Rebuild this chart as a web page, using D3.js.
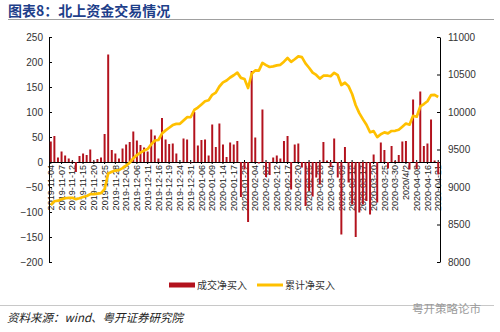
<!DOCTYPE html>
<html>
<head>
<meta charset="utf-8">
<script src="https://cdn.jsdelivr.net/npm/d3@7"></script>
<style>
  body { margin: 0; background: #fff; }
  svg { display: block; }
</style>
</head>
<body>
<div id="graph"></div>
<script>
// trading days (northbound), one bar each
var categories = [
  "2019-11-04","2019-11-05","2019-11-06","2019-11-07","2019-11-08","2019-11-11","2019-11-12","2019-11-13","2019-11-14","2019-11-15",
  "2019-11-18","2019-11-19","2019-11-20","2019-11-21","2019-11-22","2019-11-25","2019-11-26","2019-11-27","2019-11-28","2019-11-29",
  "2019-12-02","2019-12-03","2019-12-04","2019-12-05","2019-12-06","2019-12-09","2019-12-10","2019-12-11","2019-12-12","2019-12-13",
  "2019-12-16","2019-12-17","2019-12-18","2019-12-19","2019-12-20","2019-12-23","2019-12-24","2019-12-27","2019-12-30","2019-12-31",
  "2020-01-02","2020-01-03","2020-01-06","2020-01-07","2020-01-08","2020-01-09","2020-01-10","2020-01-13","2020-01-14","2020-01-15",
  "2020-01-16","2020-01-17","2020-01-20","2020-01-21","2020-01-22","2020-01-23",
  "2020-02-03","2020-02-04","2020-02-05","2020-02-06","2020-02-07","2020-02-10","2020-02-11","2020-02-12","2020-02-13","2020-02-14",
  "2020-02-17","2020-02-18","2020-02-19","2020-02-20","2020-02-21","2020-02-24","2020-02-25","2020-02-26","2020-02-27","2020-02-28",
  "2020-03-02","2020-03-03","2020-03-04","2020-03-05","2020-03-06","2020-03-09","2020-03-10","2020-03-11","2020-03-12","2020-03-13",
  "2020-03-16","2020-03-17","2020-03-18","2020-03-19","2020-03-20","2020-03-23","2020-03-24","2020-03-25","2020-03-26","2020-03-27",
  "2020-03-30","2020-03-31","2020-04-01","2020/4/2","2020-04-03","2020-04-07","2020-04-08","2020-04-09","2020-04-15","2020-04-16",
  "2020-04-17","2020-04-20","2020-04-21"
];

// 成交净买入 (left axis, 亿元)
var netBuy = [
  41, 52, 9, 21, 13, 7, 1, -20, 12, 17,
  14, 25, 1, 6, 9, 56, 215, 24, 17, 7,
  27, 35, 40, 61, 43, 34, 29, 21, 65, 53,
  7, 88, 45, 36, 37, 17, 0, 47, 45, -1,
  100, 33, 44, 45, 13, 75, 30, 77, 35, 10,
  39, 35, 42, -70, -15, -120,
  182, 49, -3, 105, -30, -26, 9, 13, 7, 42,
  52, -55, 35, 37, -11, -88, -58, -69, -31, -45,
  40, 3, -10, 47, -31, -145, 30, -41, -85, -150,
  -101, -85, -78, -105, 15, -81, 39, 24, -13, 32,
  2, 14, 41, 42, -15, 125, -14, 141, 32, 37,
  85, 3, -25
];

// 累计净买入 (right axis, 亿元)
var cumBuy = [
  8760, 8810, 8818, 8838, 8850, 8856, 8857, 8838, 8850, 8866,
  8880, 8904, 8905, 8911, 8919, 8972, 9180, 9203, 9219, 9225,
  9251, 9285, 9324, 9383, 9425, 9458, 9486, 9506, 9569, 9620,
  9627, 9712, 9755, 9790, 9826, 9842, 9842, 9887, 9931, 9930,
  10027, 10059, 10101, 10144, 10157, 10229, 10258, 10340, 10395, 10420,
  10460, 10490, 10525, 10455, 10440, 10320,
  10510, 10555, 10552, 10655, 10625, 10600, 10609, 10622, 10629, 10671,
  10720, 10668, 10703, 10742, 10731, 10648, 10590, 10525, 10494, 10445,
  10484, 10487, 10477, 10522, 10491, 10360, 10390, 10345, 10240, 10090,
  9985, 9905, 9830, 9730, 9745, 9665, 9704, 9728, 9715, 9747,
  9749, 9763, 9804, 9846, 9831, 9950, 9937, 10074, 10106, 10143,
  10225, 10228, 10200
];

var leftTicks = [-200, -150, -100, -50, 0, 50, 100, 150, 200, 250];
var rightTicks = [8000, 8500, 9000, 9500, 10000, 10500, 11000];

var W = 500, H = 332;
var plot = {left: 49, right: 440, top: 37, bottom: 262};
var barColor = "#b3121d", lineColor = "#ffc000";
var numFont = "'Liberation Sans', Arial, sans-serif";
var cjkFont = "'Noto Sans CJK SC', sans-serif";

var svg = d3.select("#graph").append("svg")
    .attr("width", W)
    .attr("height", H);

// title + rule
svg.append("text")
    .attr("x", 8).attr("y", 16)
    .attr("font-family", cjkFont)
    .attr("font-size", 14)
    .attr("font-weight", "bold")
    .attr("fill", "#1e3f8a")
    .text("图表8：北上资金交易情况");
svg.append("line")
    .attr("x1", 8).attr("x2", 494).attr("y1", 19.5).attr("y2", 19.5)
    .attr("stroke", "#a0a0a0").attr("stroke-width", 1);

// scales
var x = d3.scaleBand()
    .domain(categories)
    .range([plot.left, plot.right])
    .paddingInner(0.45)
    .paddingOuter(0.225);
var yL = d3.scaleLinear().domain([-200, 250]).range([plot.bottom, plot.top]);
var yR = d3.scaleLinear().domain([8000, 11000]).range([plot.bottom, plot.top]);

// x axis on the zero line, every third day labelled
var xAxis = svg.append("g")
    .attr("transform", "translate(0," + yL(0) + ")")
    .call(d3.axisBottom(x)
      .tickValues(categories.filter(function(d, i) { return i % 3 === 0; }))
      .tickSizeInner(2)
      .tickSizeOuter(0));
xAxis.select(".domain").attr("stroke", "#000");
xAxis.selectAll(".tick line").attr("y1", -2).attr("y2", 2).attr("stroke", "#000");
xAxis.selectAll(".tick text")
    .attr("font-family", numFont)
    .attr("font-size", 9)
    .attr("fill", "#222")
    .attr("text-anchor", "end")
    .attr("transform", "rotate(-90)")
    .attr("x", -3)
    .attr("y", 0)
    .attr("dy", "0.35em");

// left axis
var gL = svg.append("g")
    .attr("transform", "translate(" + plot.left + ",0)")
    .call(d3.axisLeft(yL).tickValues(leftTicks).tickFormat(d3.format("d"))
      .tickSizeInner(-3).tickSizeOuter(0).tickPadding(6));
gL.selectAll("text").attr("font-family", numFont).attr("font-size", 10).attr("fill", "#333");
gL.selectAll("line, path").attr("stroke", "#000");

// right axis
var gR = svg.append("g")
    .attr("transform", "translate(" + plot.right + ",0)")
    .call(d3.axisRight(yR).tickValues(rightTicks).tickFormat(d3.format("d"))
      .tickSizeInner(-3).tickSizeOuter(0).tickPadding(8));
gR.selectAll("text").attr("font-family", numFont).attr("font-size", 10).attr("fill", "#333");
gR.selectAll("line, path").attr("stroke", "#000");

// bars
svg.append("g").selectAll("rect")
    .data(netBuy)
    .enter().append("rect")
    .attr("x", function(d, i) { return x(categories[i]); })
    .attr("width", x.bandwidth())
    .attr("y", function(d) { return yL(Math.max(0, d)); })
    .attr("height", function(d) { return Math.abs(yL(d) - yL(0)); })
    .attr("fill", barColor);

// cumulative line
var line = d3.line()
    .x(function(d, i) { return x(categories[i]) + x.bandwidth() / 2; })
    .y(function(d) { return yR(d); });
svg.append("path")
    .datum(cumBuy)
    .attr("d", line)
    .attr("fill", "none")
    .attr("stroke", lineColor)
    .attr("stroke-width", 2.7)
    .attr("stroke-linejoin", "round");

// legend
var lg = svg.append("g").attr("font-family", cjkFont).attr("font-size", 10).attr("fill", "#333");
lg.append("rect").attr("x", 169).attr("y", 282.5).attr("width", 26).attr("height", 5).attr("fill", barColor);
lg.append("text").attr("x", 197).attr("y", 289).text("成交净买入");
lg.append("line").attr("x1", 257).attr("x2", 283).attr("y1", 285).attr("y2", 285)
    .attr("stroke", lineColor).attr("stroke-width", 3);
lg.append("text").attr("x", 285).attr("y", 289).text("累计净买入");

// footer
svg.append("line")
    .attr("x1", 0).attr("x2", 494).attr("y1", 305.5).attr("y2", 305.5)
    .attr("stroke", "#c8c8c8").attr("stroke-width", 1);
svg.append("text")
    .attr("x", 7).attr("y", 322)
    .attr("font-family", cjkFont)
    .attr("font-size", 11.5)
    .attr("font-style", "italic")
    .attr("fill", "#222")
    .text("资料来源：wind、粤开证券研究院");
svg.append("text")
    .attr("x", 412).attr("y", 313)
    .attr("font-family", cjkFont)
    .attr("font-size", 11.5)
    .attr("fill", "#9a9a9a")
    .text("粤开策略论市");
</script>
</body>
</html>
